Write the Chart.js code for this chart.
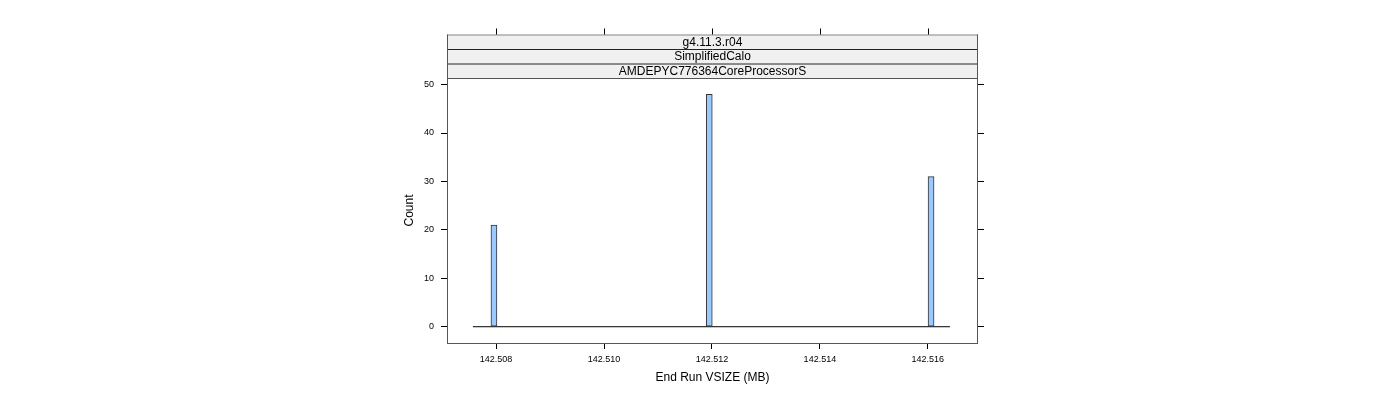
<!DOCTYPE html>
<html>
<head>
<meta charset="utf-8">
<script src="https://cdn.jsdelivr.net/npm/chart.js@4"></script>
<style>
  html, body { margin: 0; padding: 0; background: #fff; }
  canvas { display: block; }
</style>
</head>
<body>
<canvas id="histChart" width="1400" height="400"></canvas>
<script>
// histogram data (bin centres in MB, counts per bin)
const binCenters = [142.50796, 142.51195, 142.51606];
const binCounts = [21, 48, 31];
// first and last histogram break (empty bins drawn as a flat line)
const breakRange = [142.50757, 142.51641];

const xTicks = [142.508, 142.51, 142.512, 142.514, 142.516];
const yTicks = [0, 10, 20, 30, 40, 50];
const xLimits = [142.50709, 142.51693];
const yLimits = [-3.36, 51.36];

const stripLabels = ["g4.11.3.r04", "SimplifiedCalo", "AMDEPYC776364CoreProcessorS"];

const fontFamily = "'Liberation Sans', Arial, sans-serif";

function fixTicks(values) {
  return (axis) => {
    axis.ticks = values.map((v) => ({ value: v }));
  };
}

// strips, top ticks and panel frame like lattice
const latticePanel = {
  id: "latticePanel",
  afterDraw(chart) {
    const ctx = chart.ctx;
    const area = chart.chartArea;
    const stripH = 14.5;
    const stripTop = area.top - stripH * stripLabels.length;

    ctx.save();
    stripLabels.forEach((label, i) => {
      const y = stripTop + i * stripH;
      ctx.fillStyle = "#f0f0f0";
      ctx.fillRect(area.left, y, area.right - area.left, stripH);
      ctx.strokeStyle = i === 0 ? "#888" : "#222";
      ctx.lineWidth = 1;
      ctx.beginPath();
      ctx.moveTo(area.left, y + 0.5);
      ctx.lineTo(area.right, y + 0.5);
      ctx.stroke();
      ctx.fillStyle = "#000";
      ctx.font = "12px " + fontFamily;
      ctx.textAlign = "center";
      ctx.textBaseline = "middle";
      ctx.fillText(label, (area.left + area.right) / 2, y + stripH / 2 + 0.5);
    });
    ctx.strokeStyle = "#888";
    ctx.beginPath();
    ctx.moveTo(area.left, area.top + 0.5);
    ctx.lineTo(area.right, area.top + 0.5);
    ctx.stroke();

    // strip side borders
    ctx.strokeStyle = "#555";
    ctx.beginPath();
    ctx.moveTo(area.left + 0.5, stripTop);
    ctx.lineTo(area.left + 0.5, area.top);
    ctx.moveTo(area.right - 0.5, stripTop);
    ctx.lineTo(area.right - 0.5, area.top);
    ctx.stroke();

    // top axis ticks above strips
    const xScale = chart.scales.x;
    ctx.strokeStyle = "#000";
    ctx.beginPath();
    xScale.ticks.forEach((t) => {
      const px = Math.round(xScale.getPixelForValue(t.value)) + 0.5;
      ctx.moveTo(px, stripTop);
      ctx.lineTo(px, stripTop - 6);
    });
    ctx.stroke();

    // panel frame
    ctx.strokeStyle = "#555";
    ctx.strokeRect(area.left + 0.5, area.top + 0.5, area.right - area.left - 1, area.bottom - area.top);
    ctx.restore();
  },
};

new Chart(document.getElementById("histChart").getContext("2d"), {
  data: {
    datasets: [
      {
        type: "line",
        data: breakRange.map((x) => ({ x: x, y: 0 })),
        borderColor: "#000",
        borderWidth: 1,
        pointRadius: 0,
        order: 2,
      },
      {
        type: "bar",
        data: binCenters.map((x, i) => ({ x: x, y: binCounts[i] })),
        backgroundColor: "#99c9ff",
        borderColor: "#333",
        borderWidth: 1,
        borderSkipped: false,
        barThickness: 6,
        order: 1,
      },
    ],
  },
  options: {
    responsive: false,
    devicePixelRatio: 1,
    animation: false,
    layout: { padding: { left: 380, right: 416, top: 78, bottom: 0 } },
    plugins: { legend: { display: false }, tooltip: { enabled: false } },
    scales: {
      x: {
        type: "linear",
        offset: false,
        min: xLimits[0],
        max: xLimits[1],
        afterBuildTicks: fixTicks(xTicks),
        afterFit: (axis) => { axis.height = 57; },
        ticks: {
          color: "#000",
          font: { family: fontFamily, size: 9 },
          padding: 5,
          maxRotation: 0,
          callback: (v) => v.toFixed(3),
        },
        grid: { offset: false, drawOnChartArea: false, drawTicks: true, tickLength: 6, color: "#000" },
        border: { display: false },
        title: {
          display: true,
          text: "End Run VSIZE (MB)",
          color: "#000",
          font: { family: fontFamily, size: 12 },
          padding: { top: 0, bottom: 15 },
        },
      },
      y: {
        type: "linear",
        position: "left",
        min: yLimits[0],
        max: yLimits[1],
        afterBuildTicks: fixTicks(yTicks),
        afterFit: (axis) => { axis.width = 67; },
        ticks: {
          color: "#000",
          font: { family: fontFamily, size: 9 },
          padding: 7,
        },
        grid: { drawOnChartArea: false, drawTicks: true, tickLength: 6, color: "#000" },
        border: { display: false },
        title: {
          display: true,
          text: "Count",
          color: "#000",
          font: { family: fontFamily, size: 12 },
          padding: { top: 22, bottom: 0 },
        },
      },
      y2: {
        type: "linear",
        position: "right",
        min: yLimits[0],
        max: yLimits[1],
        afterBuildTicks: fixTicks(yTicks),
        afterFit: (axis) => { axis.width = 6; },
        ticks: { display: false },
        grid: { drawOnChartArea: false, drawTicks: true, tickLength: 6, color: "#000" },
        border: { display: false },
      },
    },
  },
  plugins: [latticePanel],
});
</script>
</body>
</html>
